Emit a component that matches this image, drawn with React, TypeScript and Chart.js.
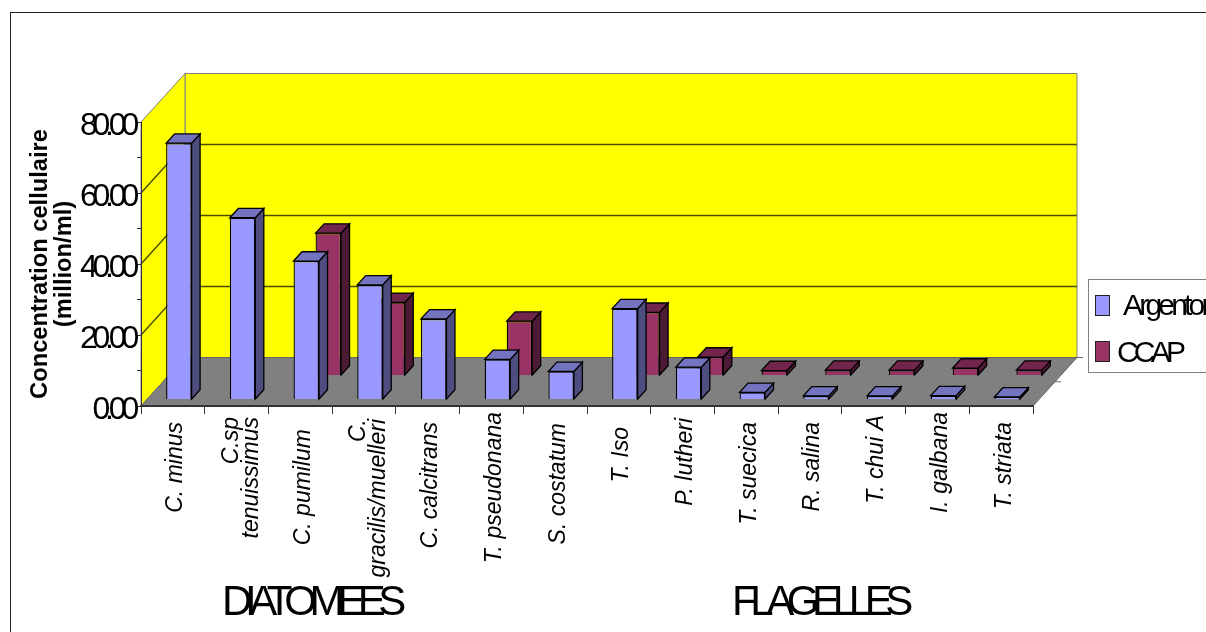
import React, { useEffect, useRef } from "react";
import { Chart, registerables } from "chart.js";

Chart.register(...registerables);

const categories: (string | string[])[] = [
  "C. minus",
  ["C.sp", "tenuissimus"],
  "C. pumilum",
  ["C.", "gracilis/muelleri"],
  "C. calcitrans",
  "T. pseudonana",
  "S. costatum",
  "T. Iso",
  "P. lutheri",
  "T. suecica",
  "R. salina",
  "T. chui A",
  "I. galbana",
  "T. striata",
];
const argentor = [72.2, 51.2, 39.0, 32.3, 22.7, 11.3, 7.9, 25.6, 9.1, 2.0, 1.0, 1.0, 1.1, 0.7];
const ccap = [null, null, 40.1, 20.6, null, 15.3, null, 17.8, 5.2, 1.4, 1.5, 1.5, 2.1, 1.5];
const seriesNames = ["Argentor", "CCAP"];
const groupNames = ["DIATOMEES", "FLAGELLES"];
const yTitle = ["Concentration cellulaire", "(million/ml)"];
// Per-label shift along the axis, so each rotated label sits at its own height.
const labelShift = [0, -5, 7, -3, 0, -10, 1, 5, -4, 0, 0, -7, -10, 0];

const CANVAS_W = 1206;
const CANVAS_H = 632;
// Oblique projection of the floor depth and of one bar's depth.
const FLOOR_DX = 44;
const FLOOR_DY = 48.5;
const BAR_DX = 8.5;
const BAR_DY = 9.3;
// Where each series row stands on the floor.
const ROW_OFFSET = [
  { x: 6, y: -6.5 },
  { x: 28, y: -30.5 },
];
const FRONT = ["#9999FF", "#993366"];
const TOP = ["#7373BF", "#73264D"];
const SIDE = ["#4D4D80", "#4D1A33"];
const EDGE = "#000000";
const WALL = "#FFFF00";
const FLOOR = "#808080";
const WALL_EDGE = "#808080";

function polygon(ctx: CanvasRenderingContext2D, pts: number[][], fill: string, stroke: string, width = 1) {
  ctx.beginPath();
  pts.forEach(([x, y], i) => (i ? ctx.lineTo(x, y) : ctx.moveTo(x, y)));
  ctx.closePath();
  ctx.fillStyle = fill;
  ctx.fill();
  ctx.strokeStyle = stroke;
  ctx.lineWidth = width;
  ctx.stroke();
}

function withSpacing(scale: any, spacing: string) {
  if (scale.__spaced) return;
  const base = scale.drawLabels.bind(scale);
  scale.drawLabels = (area: unknown) => {
    const ctx = scale.ctx;
    ctx.save();
    ctx.letterSpacing = spacing;
    base(area);
    ctx.restore();
  };
  scale.__spaced = true;
}

const scene3d = {
  id: "scene3d",
  beforeDraw(chart: any) {
    const { ctx, scales } = chart;
    const { x: xs, y: ys } = scales;
    withSpacing(ys, "-5.2px");
    if (!xs.__shifted) {
      xs.getLabelItems().forEach((item: any, i: number) => {
        const multi = Array.isArray(item.label);
        item.options.translation[0] += multi ? -5 : 3;
        item.options.translation[1] += labelShift[i] || 0;
      });
      ys.getLabelItems().forEach((item: any) => {
        item.options.translation[1] += 4;
      });
      xs.__shifted = true;
    }

    const l = xs.left;
    const r = xs.right;
    const bottom = ys.getPixelForValue(0);
    const top = ys.getPixelForValue(80);

    ctx.save();
    ctx.fillStyle = "#FFFFFF";
    ctx.fillRect(0, 0, CANVAS_W, CANVAS_H);
    ctx.strokeStyle = "#222222";
    ctx.lineWidth = 1;
    ctx.strokeRect(10.5, 12.5, CANVAS_W + 20, CANVAS_H + 20);

    // Back wall, side wall and floor of the box.
    polygon(ctx, [[l + FLOOR_DX, top - FLOOR_DY], [r + FLOOR_DX, top - FLOOR_DY], [r + FLOOR_DX, bottom - FLOOR_DY], [l + FLOOR_DX, bottom - FLOOR_DY]], WALL, WALL_EDGE);
    polygon(ctx, [[l, top], [l + FLOOR_DX, top - FLOOR_DY], [l + FLOOR_DX, bottom - FLOOR_DY], [l, bottom]], WALL, WALL_EDGE);

    // Value grid wraps from the side wall on to the back wall.
    ctx.strokeStyle = "#4D4D00";
    ctx.lineWidth = 1.4;
    ys.ticks
      .filter((t: any) => t.value % 20 === 0 && t.value > 0 && t.value < 80)
      .forEach((t: any) => {
        const py = ys.getPixelForValue(t.value);
        ctx.beginPath();
        ctx.moveTo(l, py);
        ctx.lineTo(l + FLOOR_DX, py - FLOOR_DY);
        ctx.lineTo(r + FLOOR_DX, py - FLOOR_DY);
        ctx.stroke();
      });

    polygon(ctx, [[l, bottom], [l + FLOOR_DX, bottom - FLOOR_DY], [r + FLOOR_DX, bottom - FLOOR_DY], [r, bottom]], FLOOR, "#666666");

    // Series-axis ticks on the right edge of the floor.
    ctx.strokeStyle = "#666666";
    ctx.lineWidth = 1;
    [0.5, 1].forEach((f) => {
      const px = r + FLOOR_DX * f;
      const py = bottom - FLOOR_DY * f;
      ctx.beginPath();
      ctx.moveTo(px, py);
      ctx.lineTo(px + 6, py);
      ctx.stroke();
    });
    ctx.restore();
  },
  beforeDatasetDraw(chart: any, args: any) {
    const { ctx } = chart;
    const i = args.index;
    const values = chart.data.datasets[i].data;
    ctx.save();
    ctx.translate(ROW_OFFSET[i].x, ROW_OFFSET[i].y);
    args.meta.data.forEach((bar: any, n: number) => {
      if (values[n] == null) return;
      const { x, y, base, width } = bar;
      const right = x + width / 2;
      const left = x - width / 2;
      polygon(ctx, [[right, y], [right + BAR_DX, y - BAR_DY], [right + BAR_DX, base - BAR_DY], [right, base]], SIDE[i], EDGE, 1.3);
      polygon(ctx, [[left, y], [left + BAR_DX, y - BAR_DY], [right + BAR_DX, y - BAR_DY], [right, y]], TOP[i], EDGE, 1.3);
    });
  },
  afterDatasetDraw(chart: any) {
    chart.ctx.restore();
  },
  afterDraw(chart: any) {
    const { ctx } = chart;
    ctx.save();
    ctx.fillStyle = "#000000";
    ctx.textAlign = "left";
    ctx.textBaseline = "alphabetic";

    // Group captions under the category labels.
    ctx.font = '42px "Liberation Sans"';
    ctx.letterSpacing = "-7.4px";
    ctx.fillText(groupNames[0], 222, 615);
    ctx.fillText(groupNames[1], 732, 615);

    // Legend panel, open on the right where it leaves the canvas.
    ctx.letterSpacing = "0px";
    ctx.fillStyle = "#FFFFFF";
    ctx.strokeStyle = "#808080";
    ctx.lineWidth = 1;
    ctx.fillRect(1088.5, 279.5, 130, 93);
    ctx.strokeRect(1088.5, 279.5, 130, 93);
    const swatchY = [295.5, 341.5];
    const textX = [1123, 1117];
    const textY = [315, 361.5];
    const spacing = ["-3.8px", "-4.8px"];
    ctx.font = '30px "Liberation Sans"';
    seriesNames.forEach((name, i) => {
      ctx.letterSpacing = "0px";
      ctx.fillStyle = FRONT[i];
      ctx.strokeStyle = "#222222";
      ctx.fillRect(1095.5, swatchY[i], 14, 20);
      ctx.strokeRect(1095.5, swatchY[i], 14, 20);
      ctx.fillStyle = "#000000";
      ctx.letterSpacing = spacing[i];
      ctx.fillText(name, textX[i], textY[i]);
    });
    ctx.restore();
  },
};

export default function App() {
  const ref = useRef<HTMLCanvasElement>(null);

  useEffect(() => {
    if (!ref.current) return;
    const chart = new Chart(ref.current, {
      type: "bar",
      data: {
        labels: categories as any,
        datasets: [
          { label: seriesNames[0], data: argentor, backgroundColor: FRONT[0], borderColor: EDGE, borderWidth: 1.3, clip: false, grouped: false, barPercentage: 0.4, categoryPercentage: 1 } as any,
          { label: seriesNames[1], data: ccap, backgroundColor: FRONT[1], borderColor: EDGE, borderWidth: 1.3, clip: false, grouped: false, barPercentage: 0.4, categoryPercentage: 1 } as any,
        ],
      },
      options: {
        responsive: false,
        animation: false,
        events: [],
        layout: { padding: { top: 122, right: 173, left: 0, bottom: 0 } },
        plugins: { legend: { display: false }, tooltip: { enabled: false } },
        scales: {
          x: {
            afterFit: (s: any) => { s.height = 226; },
            border: { color: "#333333", width: 2 },
            grid: { drawOnChartArea: false, color: "#333333", tickLength: 8, offset: true },
            ticks: {
              autoSkip: false,
              minRotation: 90,
              maxRotation: 90,
              padding: 8,
              color: "#000000",
              font: { family: '"Liberation Sans"', size: 23, style: "italic", lineHeight: 0.85 },
            },
          },
          y: {
            min: 0,
            max: 80,
            afterFit: (s: any) => { s.width = 141; },
            border: { color: "#333333", width: 1 },
            grid: { drawOnChartArea: false, color: "#333333", tickLength: 4 },
            title: {
              display: true,
              text: yTitle,
              color: "#000000",
              padding: { top: 28.5, bottom: 0 },
              font: { family: '"Liberation Sans"', size: 23.7, weight: "bold", lineHeight: 1 },
            },
            ticks: {
              stepSize: 10,
              autoSkip: false,
              padding: 3,
              color: "#000000",
              font: { family: '"Liberation Sans"', size: 32 },
              callback: (v: any) => (Number(v) % 20 === 0 ? Number(v).toFixed(2) : ""),
            },
          },
        },
      },
      plugins: [scene3d as any],
    });
    return () => chart.destroy();
  }, []);

  return (
    <div style={{ position: "fixed", left: 0, top: 0, width: CANVAS_W, height: CANVAS_H, overflow: "hidden", background: "#fff" }}>
      <canvas ref={ref} width={CANVAS_W} height={CANVAS_H} style={{ display: "block" }} />
    </div>
  );
}
